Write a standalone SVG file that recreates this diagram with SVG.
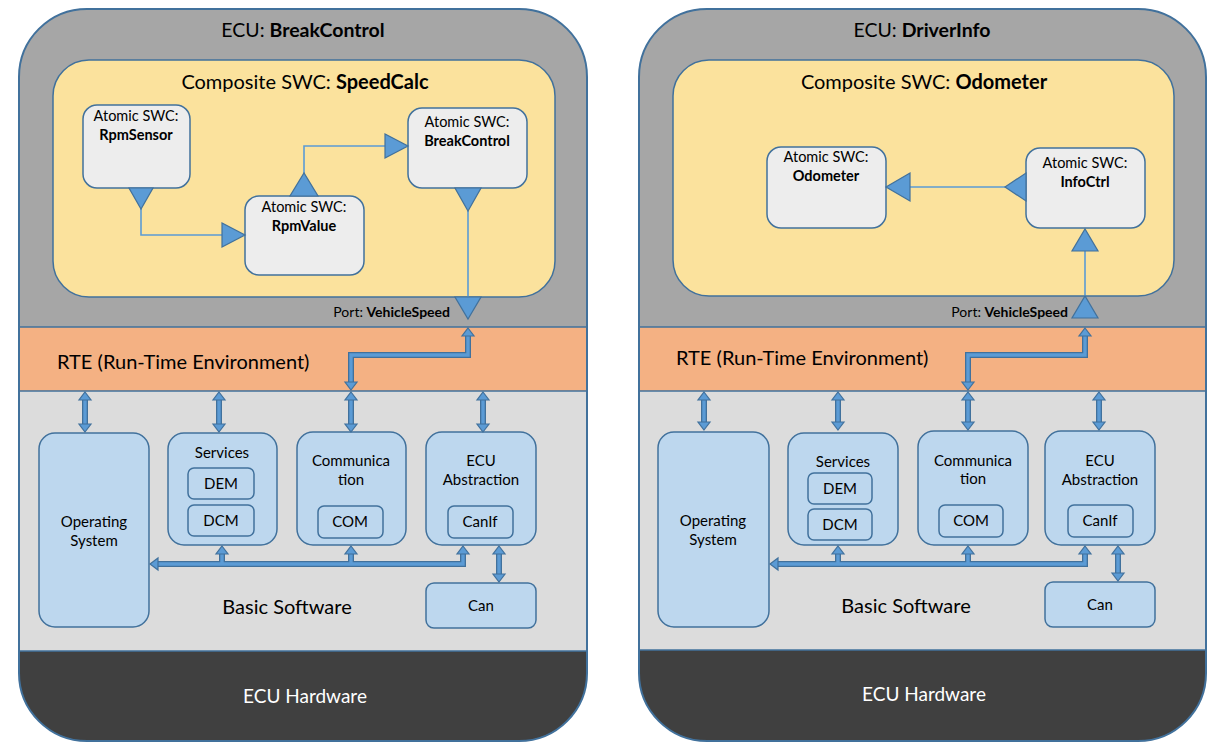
<svg xmlns="http://www.w3.org/2000/svg" width="1214" height="747" viewBox="0 0 1214 747">
<style>
text{font-family:Lato,"Open Sans","Liberation Sans",sans-serif;fill:#000}
.t18{font-size:19.5px;text-anchor:middle}
.t19{font-size:20px}
.c19{font-size:20px;text-anchor:middle}
.t13{font-size:14.5px;text-anchor:middle}
.t14{font-size:15px;text-anchor:middle}
.pt{font-size:14px;text-anchor:end}
.b{font-weight:bold}
.wh{fill:#fff}
.hwt{font-size:19px;text-anchor:middle;fill:#fff}
.top{fill:#a6a6a6}
.rte{fill:#f4b183}
.bsw{fill:#dcdcdc}
.hw{fill:#404040}
.sep{stroke:#41719c;stroke-width:1.5;fill:none}
.outer{fill:none;stroke:#41719c;stroke-width:2}
.comp{fill:#fbe29d;stroke:#41719c;stroke-width:1.5}
.atom{fill:#ededed;stroke:#41719c;stroke-width:1.5}
.blk{fill:#bdd7ee;stroke:#41719c;stroke-width:1.5}
.tri{fill:#5b9bd5;stroke:#41719c;stroke-width:1.2}
.ln{fill:none;stroke:#5b9bd5;stroke-width:1.6}
.ad{fill:none;stroke:#41719c;stroke-width:6}
.al{fill:none;stroke:#5b9bd5;stroke-width:3.4}
.hd{fill:#5b9bd5;stroke:#41719c;stroke-width:1.2;stroke-linejoin:miter}
</style>
<defs>
<clipPath id="clipL"><rect x="19" y="9" width="568" height="732" rx="68"/></clipPath>
<clipPath id="clipR"><rect x="639" y="9" width="567" height="732" rx="68"/></clipPath>
</defs>

<!-- LEFT ECU -->
<g id="ecu-left">
<g clip-path="url(#clipL)">
<rect class="top" x="19" y="9" width="568" height="318"/>
<rect class="rte" x="19" y="327" width="568" height="64"/>
<rect class="bsw" x="19" y="391" width="568" height="260"/>
<rect class="hw" x="19" y="651" width="568" height="90"/>
</g>
<path class="sep" d="M19 327H587M19 391H587M19 651H587"/>
<rect class="outer" x="19" y="9" width="568" height="732" rx="68"/>
<text class="t18" x="303" y="37">ECU: <tspan class="b">BreakControl</tspan></text>
<text class="t19" x="57" y="369">RTE (Run-Time Environment)</text>
<text class="c19" x="287" y="614">Basic Software</text>
<text class="hwt" x="305" y="703">ECU Hardware</text>
</g>

<g id="swc-speedcalc">
<rect class="comp" x="53" y="60" width="502" height="237" rx="36"/>
<text class="c19" x="305" y="89">Composite SWC: <tspan class="b">SpeedCalc</tspan></text>
</g>
<g id="swc-rpmsensor">
<rect class="atom" x="83" y="105" width="107" height="83" rx="14"/>
<text class="t13" x="136" y="121">Atomic SWC:</text>
<text class="t13 b" x="136" y="140">RpmSensor</text>
</g>
<g id="swc-rpmvalue">
<rect class="atom" x="245" y="196" width="119" height="79" rx="14"/>
<text class="t13" x="304" y="212">Atomic SWC:</text>
<text class="t13 b" x="304" y="231">RpmValue</text>
</g>
<g id="swc-breakcontrol">
<rect class="atom" x="408" y="108" width="119" height="80" rx="14"/>
<text class="t13" x="467" y="127">Atomic SWC:</text>
<text class="t13 b" x="467" y="146">BreakControl</text>
</g>
<g id="port-left">
<text class="pt" x="450" y="317">Port: <tspan class="b">VehicleSpeed</tspan></text>
</g>

<g id="bsw-left">
<g id="os-l"><rect class="blk" x="39" y="433" width="110" height="194" rx="16"/>
<text class="t14" x="94" y="527">Operating</text><text class="t14" x="94" y="546">System</text></g>
<g id="services-l"><rect class="blk" x="168" y="433" width="109" height="112" rx="16"/>
<text class="t14" x="222" y="458">Services</text>
<rect class="blk" x="188" y="468" width="66" height="31" rx="6"/><text class="t14" x="221" y="489">DEM</text>
<rect class="blk" x="188" y="505" width="66" height="31" rx="6"/><text class="t14" x="221" y="526">DCM</text></g>
<g id="comm-l"><rect class="blk" x="297" y="432" width="109" height="113" rx="16"/>
<text class="t14" x="351" y="466">Communica</text><text class="t14" x="351" y="485">tion</text>
<rect class="blk" x="318" y="506" width="65" height="32" rx="6"/><text class="t14" x="350" y="527">COM</text></g>
<g id="ecuabs-l"><rect class="blk" x="426" y="432" width="110" height="113" rx="16"/>
<text class="t14" x="481" y="466">ECU</text><text class="t14" x="481" y="485">Abstraction</text>
<rect class="blk" x="448" y="506" width="65" height="32" rx="6"/><text class="t14" x="480" y="527">CanIf</text></g>
<g id="can-l"><rect class="blk" x="426" y="583" width="110" height="45" rx="8"/>
<text class="t14" x="481" y="611">Can</text></g>
</g>

<!-- RIGHT ECU -->
<g id="ecu-right">
<g clip-path="url(#clipR)">
<rect class="top" x="639" y="9" width="567" height="318"/>
<rect class="rte" x="639" y="327" width="567" height="64"/>
<rect class="bsw" x="639" y="391" width="567" height="259"/>
<rect class="hw" x="639" y="650" width="567" height="91"/>
</g>
<path class="sep" d="M639 327H1206M639 391H1206M639 650H1206"/>
<rect class="outer" x="639" y="9" width="567" height="732" rx="68"/>
<text class="t18" x="922" y="37">ECU: <tspan class="b">DriverInfo</tspan></text>
<text class="t19" x="676" y="365">RTE (Run-Time Environment)</text>
<text class="c19" x="906" y="613">Basic Software</text>
<text class="hwt" x="924" y="701">ECU Hardware</text>
</g>

<g id="swc-odometer-comp">
<rect class="comp" x="673" y="60" width="501" height="236" rx="36"/>
<text class="c19" x="924" y="89">Composite SWC: <tspan class="b">Odometer</tspan></text>
</g>
<g id="swc-odometer">
<rect class="atom" x="767" y="147" width="119" height="81" rx="14"/>
<text class="t13" x="826" y="162">Atomic SWC:</text>
<text class="t13 b" x="826" y="181">Odometer</text>
</g>
<g id="swc-infoctrl">
<rect class="atom" x="1026" y="148" width="119" height="80" rx="14"/>
<text class="t13" x="1085" y="168">Atomic SWC:</text>
<text class="t13 b" x="1085" y="187">InfoCtrl</text>
</g>
<g id="port-right">
<text class="pt" x="1068" y="317">Port: <tspan class="b">VehicleSpeed</tspan></text>
</g>

<g id="bsw-right">
<g id="os-r"><rect class="blk" x="658" y="432" width="111" height="195" rx="16"/>
<text class="t14" x="713" y="526">Operating</text><text class="t14" x="713" y="545">System</text></g>
<g id="services-r"><rect class="blk" x="788" y="433" width="110" height="112" rx="16"/>
<text class="t14" x="843" y="467">Services</text>
<rect class="blk" x="808" y="473" width="64" height="31" rx="6"/><text class="t14" x="840" y="494">DEM</text>
<rect class="blk" x="808" y="509" width="64" height="31" rx="6"/><text class="t14" x="840" y="530">DCM</text></g>
<g id="comm-r"><rect class="blk" x="918" y="431" width="110" height="114" rx="16"/>
<text class="t14" x="973" y="466">Communica</text><text class="t14" x="973" y="484">tion</text>
<rect class="blk" x="939" y="505" width="64" height="32" rx="6"/><text class="t14" x="971" y="526">COM</text></g>
<g id="ecuabs-r"><rect class="blk" x="1045" y="431" width="110" height="114" rx="16"/>
<text class="t14" x="1100" y="466">ECU</text><text class="t14" x="1100" y="485">Abstraction</text>
<rect class="blk" x="1068" y="505" width="65" height="32" rx="6"/><text class="t14" x="1100" y="526">CanIf</text></g>
<g id="can-r"><rect class="blk" x="1045" y="582" width="110" height="45" rx="8"/>
<text class="t14" x="1100" y="610">Can</text></g>
</g>

<!-- CONNECTORS -->
<g id="connectors">
<path class="ln" d="M141 209V235H222"/>
<path class="ln" d="M304 173V146H385"/>
<path class="ln" d="M468 211V297"/>
<path class="ln" d="M1005 187H910"/>
<path class="ln" d="M1085 251V296"/>
<polygon class="tri" points="129,188 153,188 141,209"/>
<polygon class="tri" points="222,223 222,247 245,235"/>
<polygon class="tri" points="290,196 318,196 304,173"/>
<polygon class="tri" points="385,134 385,158 408,146"/>
<polygon class="tri" points="455,188 481,188 468,211"/>
<polygon class="tri" points="455,297 481,297 468,319"/>
<polygon class="tri" points="1026,173 1026,201 1005,187"/>
<polygon class="tri" points="910,173 910,201 886,187"/>
<polygon class="tri" points="1072,251 1098,251 1085,229"/>
<polygon class="tri" points="1072,318 1098,318 1085,296"/>

<path class="ad" d="M468 336V355H351V382M351 400V424M85 400V424M219 400V424M483 400V424M158 564H463V554M222 564V554M351 564V554M499 554V574"/>
<path class="ad" d="M1085 336V355H968V382M968 400V422M704 400V422M838 400V422M1099 400V422M778 564H1085V554M838 564V554M968 564V554M1118 554V573"/>
<path class="al" d="M468 335V355H351V383M351 399V425M85 399V425M219 399V425M483 399V425M157 564H463V553M222 564V553M351 564V553M499 553V575"/>
<path class="al" d="M1085 335V355H968V383M968 399V423M704 399V423M838 399V423M1099 399V423M777 564H1085V553M838 564V553M968 564V553M1118 553V574"/>
<polygon class="hd" points="468,328 474,336 462,336"/>
<polygon class="hd" points="351,390 357,382 345,382"/>
<polygon class="hd" points="351,392 357,400 345,400"/>
<polygon class="hd" points="351,432 357,424 345,424"/>
<polygon class="hd" points="85,392 91,400 79,400"/>
<polygon class="hd" points="85,432 91,424 79,424"/>
<polygon class="hd" points="219,392 225,400 213,400"/>
<polygon class="hd" points="219,432 225,424 213,424"/>
<polygon class="hd" points="483,392 489,400 477,400"/>
<polygon class="hd" points="483,432 489,424 477,424"/>
<polygon class="hd" points="150,564 158,558 158,570"/>
<polygon class="hd" points="222,546 228,554 216,554"/>
<polygon class="hd" points="351,546 357,554 345,554"/>
<polygon class="hd" points="463,546 469,554 457,554"/>
<polygon class="hd" points="499,546 505,554 493,554"/>
<polygon class="hd" points="499,582 505,574 493,574"/>
<polygon class="hd" points="1085,328 1091,336 1079,336"/>
<polygon class="hd" points="968,390 974,382 962,382"/>
<polygon class="hd" points="968,392 974,400 962,400"/>
<polygon class="hd" points="968,430 974,422 962,422"/>
<polygon class="hd" points="704,392 710,400 698,400"/>
<polygon class="hd" points="704,430 710,422 698,422"/>
<polygon class="hd" points="838,392 844,400 832,400"/>
<polygon class="hd" points="838,430 844,422 832,422"/>
<polygon class="hd" points="1099,392 1105,400 1093,400"/>
<polygon class="hd" points="1099,430 1105,422 1093,422"/>
<polygon class="hd" points="770,564 778,558 778,570"/>
<polygon class="hd" points="838,546 844,554 832,554"/>
<polygon class="hd" points="968,546 974,554 962,554"/>
<polygon class="hd" points="1085,546 1091,554 1079,554"/>
<polygon class="hd" points="1118,546 1124,554 1112,554"/>
<polygon class="hd" points="1118,581 1124,573 1112,573"/>
</g>
</svg>
